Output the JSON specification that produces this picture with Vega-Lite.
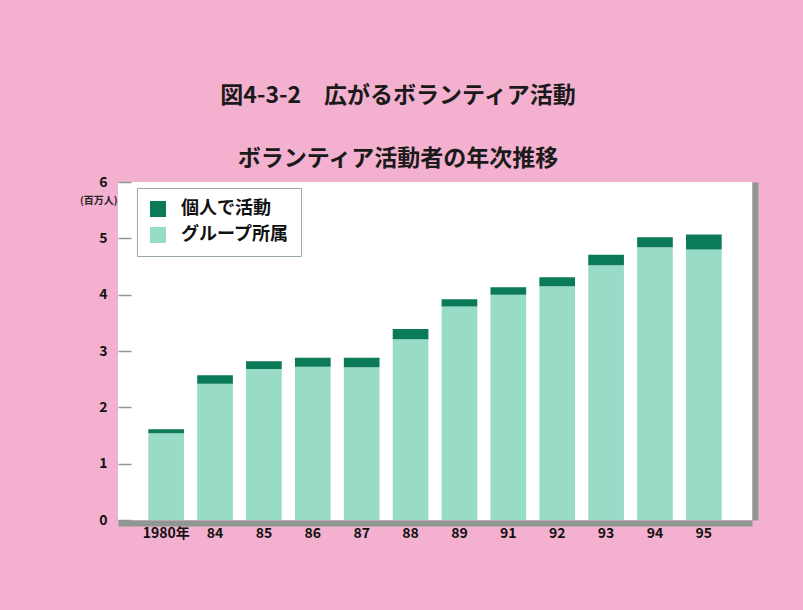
{
  "$schema": "https://vega.github.io/schema/vega-lite/v6.json",
  "autosize": {"type": "none"},
  "padding": {"left": 118, "top": 182, "right": 51, "bottom": 90},
  "width": 634,
  "height": 338,
  "background": "#f4b1cf",
  "title": {
    "text": "図4-3-2　広がるボランティア活動",
    "subtitle": "ボランティア活動者の年次推移",
    "anchor": "middle",
    "frame": "group",
    "dx": -37,
    "offset": 4,
    "font": "Noto Sans CJK JP",
    "fontSize": 23,
    "fontWeight": "bold",
    "color": "#1a1a1a",
    "subtitleFont": "Noto Sans CJK JP",
    "subtitleFontSize": 23,
    "subtitleFontWeight": "bold",
    "subtitleColor": "#1a1a1a",
    "subtitlePadding": 40
  },
  "data": {
    "values": [
      {"年": "1980年", "区分": "グループ所属", "値": 1.54, "順": 1},
      {"年": "1980年", "区分": "個人で活動", "値": 0.07, "順": 2},
      {"年": "84", "区分": "グループ所属", "値": 2.42, "順": 1},
      {"年": "84", "区分": "個人で活動", "値": 0.15, "順": 2},
      {"年": "85", "区分": "グループ所属", "値": 2.68, "順": 1},
      {"年": "85", "区分": "個人で活動", "値": 0.14, "順": 2},
      {"年": "86", "区分": "グループ所属", "値": 2.72, "順": 1},
      {"年": "86", "区分": "個人で活動", "値": 0.16, "順": 2},
      {"年": "87", "区分": "グループ所属", "値": 2.71, "順": 1},
      {"年": "87", "区分": "個人で活動", "値": 0.17, "順": 2},
      {"年": "88", "区分": "グループ所属", "値": 3.21, "順": 1},
      {"年": "88", "区分": "個人で活動", "値": 0.18, "順": 2},
      {"年": "89", "区分": "グループ所属", "値": 3.79, "順": 1},
      {"年": "89", "区分": "個人で活動", "値": 0.13, "順": 2},
      {"年": "91", "区分": "グループ所属", "値": 4.00, "順": 1},
      {"年": "91", "区分": "個人で活動", "値": 0.13, "順": 2},
      {"年": "92", "区分": "グループ所属", "値": 4.15, "順": 1},
      {"年": "92", "区分": "個人で活動", "値": 0.16, "順": 2},
      {"年": "93", "区分": "グループ所属", "値": 4.52, "順": 1},
      {"年": "93", "区分": "個人で活動", "値": 0.19, "順": 2},
      {"年": "94", "区分": "グループ所属", "値": 4.84, "順": 1},
      {"年": "94", "区分": "個人で活動", "値": 0.18, "順": 2},
      {"年": "95", "区分": "グループ所属", "値": 4.80, "順": 1},
      {"年": "95", "区分": "個人で活動", "値": 0.27, "順": 2}
    ]
  },
  "layer": [
    {
      "mark": {"type": "bar"},
      "encoding": {
        "x": {
          "field": "年",
          "type": "nominal",
          "sort": null,
          "scale": {"paddingInner": 0.27, "paddingOuter": 0.62},
          "axis": {
            "title": null,
            "labelAngle": 0,
            "ticks": false,
            "domain": true,
            "domainColor": "#8c9890",
            "domainWidth": 6,
            "offset": 3,
            "labelPadding": 3,
            "labelFont": "Noto Sans CJK JP",
            "labelFontSize": 14,
            "labelFontWeight": "bold",
            "labelColor": "#111111"
          }
        },
        "y": {
          "field": "値",
          "type": "quantitative",
          "aggregate": "sum",
          "stack": "zero",
          "scale": {"domain": [0, 6], "nice": false},
          "axis": {
            "title": "(百万人)",
            "titleAngle": 0,
            "titleAlign": "right",
            "titleBaseline": "middle",
            "titleX": -1,
            "titleY": 18,
            "titleFont": "Noto Sans CJK JP",
            "titleFontSize": 10,
            "titleFontWeight": "bold",
            "titleColor": "#222222",
            "values": [0, 1, 2, 3, 4, 5, 6],
            "grid": false,
            "domain": false,
            "ticks": true,
            "tickSize": -13,
            "tickColor": "#8c9890",
            "tickWidth": 1.5,
            "labelPadding": 24,
            "labelFont": "Noto Sans CJK JP",
            "labelFontSize": 14,
            "labelFontWeight": "bold",
            "labelColor": "#111111"
          }
        },
        "color": {
          "field": "区分",
          "type": "nominal",
          "scale": {"domain": ["個人で活動", "グループ所属"], "range": ["#0b7a58", "#98dcc8"]},
          "legend": {
            "title": null,
            "orient": "none",
            "legendX": 19,
            "legendY": 6,
            "direction": "vertical",
            "symbolType": "square",
            "symbolSize": 256,
            "symbolStrokeWidth": 0,
            "labelFont": "Noto Sans CJK JP",
            "labelFontSize": 18,
            "labelFontWeight": "bold",
            "labelColor": "#111111",
            "labelOffset": 14,
            "rowPadding": 8,
            "padding": 12,
            "strokeColor": "#9aab9f",
            "fillColor": "#ffffff"
          }
        },
        "order": {"field": "順", "type": "quantitative"}
      }
    },
    {
      "mark": {"type": "bar", "opacity": 0},
      "encoding": {
        "x": {"field": "年", "type": "nominal", "sort": null},
        "y": {
          "field": "値",
          "type": "quantitative",
          "aggregate": "sum",
          "axis": {
            "orient": "right",
            "title": null,
            "labels": false,
            "ticks": false,
            "grid": false,
            "domain": true,
            "domainColor": "#8c9890",
            "domainWidth": 6,
            "offset": 3
          }
        }
      }
    }
  ],
  "resolve": {"axis": {"y": "independent"}},
  "config": {
    "view": {"fill": "#ffffff", "stroke": null}
  }
}
